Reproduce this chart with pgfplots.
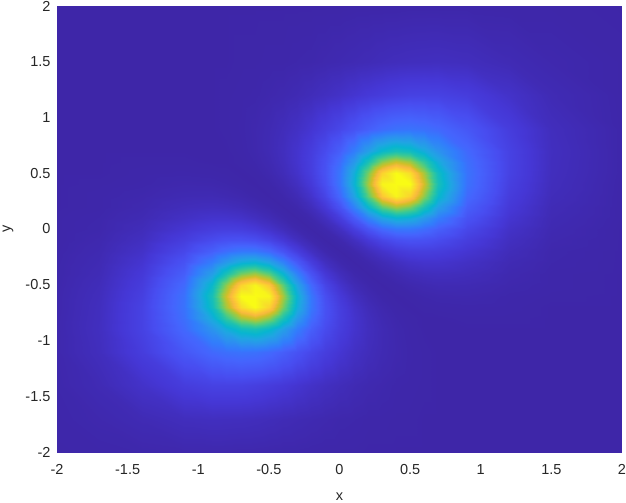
\documentclass[border=0pt]{standalone}
\usepackage{pgfplots}
\pgfplotsset{compat=1.18}
\usepackage{fontspec}
\setmainfont{Liberation Sans}
\definecolor{labelgray}{RGB}{38,38,38}
\pgfplotsset{colormap={parula}{
rgb(0pt)=(0.2422,0.1504,0.6603)
rgb(4pt)=(0.2706,0.2147,0.8364)
rgb(8pt)=(0.2813,0.3006,0.9414)
rgb(12pt)=(0.2699,0.3892,0.9906)
rgb(16pt)=(0.1963,0.4847,0.9892)
rgb(20pt)=(0.1687,0.5703,0.9359)
rgb(24pt)=(0.1248,0.6459,0.8883)
rgb(28pt)=(0.0297,0.7082,0.8163)
rgb(32pt)=(0.0964,0.7500,0.7120)
rgb(36pt)=(0.2161,0.7843,0.5923)
rgb(40pt)=(0.3909,0.8029,0.4354)
rgb(44pt)=(0.6174,0.7876,0.2612)
rgb(48pt)=(0.8203,0.7498,0.1535)
rgb(52pt)=(0.9728,0.7298,0.2394)
rgb(56pt)=(0.9892,0.8136,0.1885)
rgb(60pt)=(0.9597,0.9135,0.1423)
rgb(63pt)=(0.9769,0.9839,0.0805)
}}
\pgfplotstableread{
x y z
-2 -2 0.001
-1.7 -2 0.002
-1.4 -2 0.004
-1.1 -2 0.006
-0.9 -2 0.006
-0.8 -2 0.006
-0.7 -2 0.005
-0.6 -2 0.005
-0.5 -2 0.004
-0.4 -2 0.003
-0.3 -2 0.003
-0.2 -2 0.002
-0.1 -2 0.001
0 -2 0.001
0.1 -2 0.001
0.2 -2 0
0.3 -2 0
0.4 -2 0
0.5 -2 0
0.6 -2 0
0.7 -2 0
0.9 -2 0
1.2 -2 0
1.5 -2 0
2 -2 0

-2 -1.7 0.002
-1.7 -1.7 0.007
-1.4 -1.7 0.015
-1.1 -1.7 0.025
-0.9 -1.7 0.028
-0.8 -1.7 0.027
-0.7 -1.7 0.026
-0.6 -1.7 0.024
-0.5 -1.7 0.021
-0.4 -1.7 0.017
-0.3 -1.7 0.014
-0.2 -1.7 0.011
-0.1 -1.7 0.008
0 -1.7 0.005
0.1 -1.7 0.004
0.2 -1.7 0.002
0.3 -1.7 0.002
0.4 -1.7 0.001
0.5 -1.7 0.001
0.6 -1.7 0
0.7 -1.7 0
0.9 -1.7 0
1.2 -1.7 0
1.5 -1.7 0
2 -1.7 0

-2 -1.4 0.004
-1.7 -1.4 0.015
-1.4 -1.4 0.040
-1.1 -1.4 0.070
-0.9 -1.4 0.083
-0.8 -1.4 0.084
-0.7 -1.4 0.083
-0.6 -1.4 0.077
-0.5 -1.4 0.069
-0.4 -1.4 0.060
-0.3 -1.4 0.049
-0.2 -1.4 0.038
-0.1 -1.4 0.029
0 -1.4 0.021
0.1 -1.4 0.014
0.2 -1.4 0.009
0.3 -1.4 0.006
0.4 -1.4 0.003
0.5 -1.4 0.002
0.6 -1.4 0.001
0.7 -1.4 0
0.9 -1.4 0
1.2 -1.4 0
1.5 -1.4 0
2 -1.4 0

-2 -1.1 0.006
-1.7 -1.1 0.025
-1.4 -1.1 0.070
-1.1 -1.1 0.136
-0.9 -1.1 0.177
-0.8 -1.1 0.192
-0.7 -1.1 0.200
-0.6 -1.1 0.196
-0.5 -1.1 0.179
-0.4 -1.1 0.153
-0.3 -1.1 0.124
-0.2 -1.1 0.096
-0.1 -1.1 0.072
0 -1.1 0.051
0.1 -1.1 0.034
0.2 -1.1 0.022
0.3 -1.1 0.013
0.4 -1.1 0.007
0.5 -1.1 0.003
0.6 -1.1 0.001
0.7 -1.1 0
0.9 -1.1 0
1.2 -1.1 0
1.5 -1.1 0
2 -1.1 0

-2 -0.9 0.006
-1.7 -0.9 0.028
-1.4 -0.9 0.083
-1.1 -0.9 0.177
-0.9 -0.9 0.282
-0.8 -0.9 0.356
-0.7 -0.9 0.421
-0.6 -0.9 0.441
-0.5 -0.9 0.399
-0.4 -0.9 0.314
-0.3 -0.9 0.224
-0.2 -0.9 0.154
-0.1 -0.9 0.105
0 -0.9 0.070
0.1 -0.9 0.045
0.2 -0.9 0.026
0.3 -0.9 0.014
0.4 -0.9 0.006
0.5 -0.9 0.002
0.6 -0.9 0
0.7 -0.9 0
0.9 -0.9 0
1.2 -0.9 0
1.5 -0.9 0
2 -0.9 0

-2 -0.8 0.006
-1.7 -0.8 0.027
-1.4 -0.8 0.084
-1.1 -0.8 0.192
-0.9 -0.8 0.356
-0.8 -0.8 0.490
-0.7 -0.8 0.616
-0.6 -0.8 0.663
-0.5 -0.8 0.594
-0.4 -0.8 0.448
-0.3 -0.8 0.297
-0.2 -0.8 0.187
-0.1 -0.8 0.118
0 -0.8 0.074
0.1 -0.8 0.045
0.2 -0.8 0.024
0.3 -0.8 0.011
0.4 -0.8 0.004
0.5 -0.8 0.001
0.6 -0.8 0
0.7 -0.8 0
0.9 -0.8 0.001
1.2 -0.8 0.001
1.5 -0.8 0
2 -0.8 0

-2 -0.7 0.005
-1.7 -0.7 0.026
-1.4 -0.7 0.083
-1.1 -0.7 0.200
-0.9 -0.7 0.421
-0.8 -0.7 0.616
-0.7 -0.7 0.804
-0.6 -0.7 0.878
-0.5 -0.7 0.782
-0.4 -0.7 0.573
-0.3 -0.7 0.361
-0.2 -0.7 0.210
-0.1 -0.7 0.122
0 -0.7 0.072
0.1 -0.7 0.040
0.2 -0.7 0.019
0.3 -0.7 0.007
0.4 -0.7 0.001
0.5 -0.7 0
0.6 -0.7 0.001
0.7 -0.7 0.002
0.9 -0.7 0.003
1.2 -0.7 0.002
1.5 -0.7 0
2 -0.7 0

-2 -0.6 0.005
-1.7 -0.6 0.024
-1.4 -0.6 0.077
-1.1 -0.6 0.196
-0.9 -0.6 0.441
-0.8 -0.6 0.663
-0.7 -0.6 0.878
-0.6 -0.6 0.962
-0.5 -0.6 0.854
-0.4 -0.6 0.618
-0.3 -0.6 0.378
-0.2 -0.6 0.209
-0.1 -0.6 0.113
0 -0.6 0.061
0.1 -0.6 0.029
0.2 -0.6 0.011
0.3 -0.6 0.002
0.4 -0.6 0
0.5 -0.6 0.001
0.6 -0.6 0.004
0.7 -0.6 0.006
0.9 -0.6 0.007
1.2 -0.6 0.003
1.5 -0.6 0.001
2 -0.6 0

-2 -0.5 0.004
-1.7 -0.5 0.021
-1.4 -0.5 0.069
-1.1 -0.5 0.179
-0.9 -0.5 0.399
-0.8 -0.5 0.594
-0.7 -0.5 0.782
-0.6 -0.5 0.854
-0.5 -0.5 0.756
-0.4 -0.5 0.544
-0.3 -0.5 0.329
-0.2 -0.5 0.177
-0.1 -0.5 0.090
0 -0.5 0.043
0.1 -0.5 0.016
0.2 -0.5 0.004
0.3 -0.5 0
0.4 -0.5 0.002
0.5 -0.5 0.007
0.6 -0.5 0.011
0.7 -0.5 0.014
0.9 -0.5 0.013
1.2 -0.5 0.006
1.5 -0.5 0.002
2 -0.5 0

-2 -0.4 0.003
-1.7 -0.4 0.017
-1.4 -0.4 0.060
-1.1 -0.4 0.153
-0.9 -0.4 0.314
-0.8 -0.4 0.448
-0.7 -0.4 0.573
-0.6 -0.4 0.618
-0.5 -0.4 0.544
-0.4 -0.4 0.392
-0.3 -0.4 0.236
-0.2 -0.4 0.124
-0.1 -0.4 0.058
0 -0.4 0.023
0.1 -0.4 0.005
0.2 -0.4 0
0.3 -0.4 0.004
0.4 -0.4 0.011
0.5 -0.4 0.019
0.6 -0.4 0.024
0.7 -0.4 0.026
0.9 -0.4 0.022
1.2 -0.4 0.009
1.5 -0.4 0.002
2 -0.4 0

-2 -0.3 0.003
-1.7 -0.3 0.014
-1.4 -0.3 0.049
-1.1 -0.3 0.124
-0.9 -0.3 0.224
-0.8 -0.3 0.297
-0.7 -0.3 0.361
-0.6 -0.3 0.378
-0.5 -0.3 0.329
-0.4 -0.3 0.236
-0.3 -0.3 0.141
-0.2 -0.3 0.071
-0.1 -0.3 0.028
0 -0.3 0.006
0.1 -0.3 0
0.2 -0.3 0.005
0.3 -0.3 0.017
0.4 -0.3 0.029
0.5 -0.3 0.040
0.6 -0.3 0.045
0.7 -0.3 0.045
0.9 -0.3 0.034
1.2 -0.3 0.014
1.5 -0.3 0.004
2 -0.3 0

-2 -0.2 0.002
-1.7 -0.2 0.011
-1.4 -0.2 0.038
-1.1 -0.2 0.096
-0.9 -0.2 0.154
-0.8 -0.2 0.187
-0.7 -0.2 0.210
-0.6 -0.2 0.209
-0.5 -0.2 0.177
-0.4 -0.2 0.124
-0.3 -0.2 0.071
-0.2 -0.2 0.031
-0.1 -0.2 0.007
0 -0.2 0
0.1 -0.2 0.006
0.2 -0.2 0.023
0.3 -0.2 0.043
0.4 -0.2 0.061
0.5 -0.2 0.072
0.6 -0.2 0.074
0.7 -0.2 0.070
0.9 -0.2 0.051
1.2 -0.2 0.021
1.5 -0.2 0.005
2 -0.2 0

-2 -0.1 0.001
-1.7 -0.1 0.008
-1.4 -0.1 0.029
-1.1 -0.1 0.072
-0.9 -0.1 0.105
-0.8 -0.1 0.118
-0.7 -0.1 0.122
-0.6 -0.1 0.113
-0.5 -0.1 0.090
-0.4 -0.1 0.058
-0.3 -0.1 0.028
-0.2 -0.1 0.007
-0.1 -0.1 0
0 -0.1 0.007
0.1 -0.1 0.028
0.2 -0.1 0.058
0.3 -0.1 0.090
0.4 -0.1 0.113
0.5 -0.1 0.122
0.6 -0.1 0.118
0.7 -0.1 0.105
0.9 -0.1 0.072
1.2 -0.1 0.029
1.5 -0.1 0.008
2 -0.1 0

-2 0 0.001
-1.7 0 0.005
-1.4 0 0.021
-1.1 0 0.051
-0.9 0 0.070
-0.8 0 0.074
-0.7 0 0.072
-0.6 0 0.061
-0.5 0 0.043
-0.4 0 0.023
-0.3 0 0.006
-0.2 0 0
-0.1 0 0.007
0 0 0.031
0.1 0 0.071
0.2 0 0.124
0.3 0 0.177
0.4 0 0.209
0.5 0 0.210
0.6 0 0.187
0.7 0 0.154
0.9 0 0.096
1.2 0 0.038
1.5 0 0.011
2 0 0

-2 0.1 0.001
-1.7 0.1 0.004
-1.4 0.1 0.014
-1.1 0.1 0.034
-0.9 0.1 0.045
-0.8 0.1 0.045
-0.7 0.1 0.040
-0.6 0.1 0.029
-0.5 0.1 0.017
-0.4 0.1 0.005
-0.3 0.1 0
-0.2 0.1 0.006
-0.1 0.1 0.028
0 0.1 0.071
0.1 0.1 0.141
0.2 0.1 0.236
0.3 0.1 0.329
0.4 0.1 0.378
0.5 0.1 0.361
0.6 0.1 0.297
0.7 0.1 0.224
0.9 0.1 0.124
1.2 0.1 0.049
1.5 0.1 0.014
2 0.1 0.001

-2 0.2 0
-1.7 0.2 0.002
-1.4 0.2 0.009
-1.1 0.2 0.022
-0.9 0.2 0.026
-0.8 0.2 0.024
-0.7 0.2 0.019
-0.6 0.2 0.011
-0.5 0.2 0.004
-0.4 0.2 0
-0.3 0.2 0.005
-0.2 0.2 0.023
-0.1 0.2 0.058
0 0.2 0.124
0.1 0.2 0.236
0.2 0.2 0.392
0.3 0.2 0.544
0.4 0.2 0.618
0.5 0.2 0.573
0.6 0.2 0.448
0.7 0.2 0.314
0.9 0.2 0.153
1.2 0.2 0.060
1.5 0.2 0.017
2 0.2 0.001

-2 0.3 0
-1.7 0.3 0.002
-1.4 0.3 0.006
-1.1 0.3 0.013
-0.9 0.3 0.014
-0.8 0.3 0.011
-0.7 0.3 0.007
-0.6 0.3 0.002
-0.5 0.3 0
-0.4 0.3 0.004
-0.3 0.3 0.016
-0.2 0.3 0.043
-0.1 0.3 0.090
0 0.3 0.177
0.1 0.3 0.329
0.2 0.3 0.544
0.3 0.3 0.756
0.4 0.3 0.854
0.5 0.3 0.782
0.6 0.3 0.594
0.7 0.3 0.399
0.9 0.3 0.179
1.2 0.3 0.069
1.5 0.3 0.021
2 0.3 0.001

-2 0.4 0
-1.7 0.4 0.001
-1.4 0.4 0.003
-1.1 0.4 0.007
-0.9 0.4 0.006
-0.8 0.4 0.004
-0.7 0.4 0.001
-0.6 0.4 0
-0.5 0.4 0.002
-0.4 0.4 0.011
-0.3 0.4 0.029
-0.2 0.4 0.061
-0.1 0.4 0.113
0 0.4 0.209
0.1 0.4 0.378
0.2 0.4 0.618
0.3 0.4 0.854
0.4 0.4 0.962
0.5 0.4 0.878
0.6 0.4 0.663
0.7 0.4 0.441
0.9 0.4 0.196
1.2 0.4 0.077
1.5 0.4 0.024
2 0.4 0.001

-2 0.5 0
-1.7 0.5 0
-1.4 0.5 0.002
-1.1 0.5 0.003
-0.9 0.5 0.002
-0.8 0.5 0.001
-0.7 0.5 0
-0.6 0.5 0.001
-0.5 0.5 0.007
-0.4 0.5 0.019
-0.3 0.5 0.040
-0.2 0.5 0.072
-0.1 0.5 0.122
0 0.5 0.210
0.1 0.5 0.361
0.2 0.5 0.573
0.3 0.5 0.782
0.4 0.5 0.878
0.5 0.5 0.804
0.6 0.5 0.616
0.7 0.5 0.421
0.9 0.5 0.200
1.2 0.5 0.083
1.5 0.5 0.026
2 0.5 0.002

-2 0.6 0
-1.7 0.6 0
-1.4 0.6 0.001
-1.1 0.6 0.001
-0.9 0.6 0
-0.8 0.6 0
-0.7 0.6 0.001
-0.6 0.6 0.004
-0.5 0.6 0.011
-0.4 0.6 0.024
-0.3 0.6 0.045
-0.2 0.6 0.074
-0.1 0.6 0.118
0 0.6 0.187
0.1 0.6 0.297
0.2 0.6 0.448
0.3 0.6 0.594
0.4 0.6 0.663
0.5 0.6 0.616
0.6 0.6 0.490
0.7 0.6 0.356
0.9 0.6 0.192
1.2 0.6 0.084
1.5 0.6 0.027
2 0.6 0.002

-2 0.7 0
-1.7 0.7 0
-1.4 0.7 0
-1.1 0.7 0
-0.9 0.7 0
-0.8 0.7 0
-0.7 0.7 0.002
-0.6 0.7 0.006
-0.5 0.7 0.014
-0.4 0.7 0.026
-0.3 0.7 0.045
-0.2 0.7 0.070
-0.1 0.7 0.105
0 0.7 0.154
0.1 0.7 0.224
0.2 0.7 0.314
0.3 0.7 0.399
0.4 0.7 0.441
0.5 0.7 0.421
0.6 0.7 0.356
0.7 0.7 0.282
0.9 0.7 0.177
1.2 0.7 0.083
1.5 0.7 0.028
2 0.7 0.002

-2 0.9 0
-1.7 0.9 0
-1.4 0.9 0
-1.1 0.9 0
-0.9 0.9 0
-0.8 0.9 0.001
-0.7 0.9 0.003
-0.6 0.9 0.007
-0.5 0.9 0.013
-0.4 0.9 0.022
-0.3 0.9 0.034
-0.2 0.9 0.051
-0.1 0.9 0.072
0 0.9 0.096
0.1 0.9 0.124
0.2 0.9 0.153
0.3 0.9 0.179
0.4 0.9 0.196
0.5 0.9 0.200
0.6 0.9 0.192
0.7 0.9 0.177
0.9 0.9 0.136
1.2 0.9 0.070
1.5 0.9 0.025
2 0.9 0.002

-2 1.2 0
-1.7 1.2 0
-1.4 1.2 0
-1.1 1.2 0
-0.9 1.2 0
-0.8 1.2 0.001
-0.7 1.2 0.002
-0.6 1.2 0.003
-0.5 1.2 0.006
-0.4 1.2 0.009
-0.3 1.2 0.014
-0.2 1.2 0.021
-0.1 1.2 0.029
0 1.2 0.038
0.1 1.2 0.049
0.2 1.2 0.060
0.3 1.2 0.069
0.4 1.2 0.077
0.5 1.2 0.083
0.6 1.2 0.084
0.7 1.2 0.083
0.9 1.2 0.070
1.2 1.2 0.040
1.5 1.2 0.015
2 1.2 0.001

-2 1.5 0
-1.7 1.5 0
-1.4 1.5 0
-1.1 1.5 0
-0.9 1.5 0
-0.8 1.5 0
-0.7 1.5 0.001
-0.6 1.5 0.001
-0.5 1.5 0.002
-0.4 1.5 0.002
-0.3 1.5 0.004
-0.2 1.5 0.005
-0.1 1.5 0.008
0 1.5 0.011
0.1 1.5 0.014
0.2 1.5 0.017
0.3 1.5 0.021
0.4 1.5 0.024
0.5 1.5 0.026
0.6 1.5 0.027
0.7 1.5 0.028
0.9 1.5 0.025
1.2 1.5 0.015
1.5 1.5 0.007
2 1.5 0.001

-2 2 0
-1.7 2 0
-1.4 2 0
-1.1 2 0
-0.9 2 0
-0.8 2 0
-0.7 2 0
-0.6 2 0
-0.5 2 0
-0.4 2 0
-0.3 2 0
-0.2 2 0
-0.1 2 0
0 2 0
0.1 2 0.001
0.2 2 0.001
0.3 2 0.001
0.4 2 0.001
0.5 2 0.002
0.6 2 0.002
0.7 2 0.002
0.9 2 0.002
1.2 2 0.001
1.5 2 0.001
2 2 0
}\fieldtable
\begin{document}
\begin{tikzpicture}
\begin{axis}[
  scale only axis, width=565bp, height=446bp,
  view={0}{90},
  xmin=-2, xmax=2, ymin=-2, ymax=2,
  xtick={-2,-1.5,-1,-0.5,0,0.5,1,1.5,2},
  ytick={-2,-1.5,-1,-0.5,0,0.5,1,1.5,2},
  axis line style={draw=none},
  major tick style={draw=none},
  minor tick num=0,
  /pgf/number format/assume math mode=true,
  tick label style={font=\fontsize{14.5bp}{17bp}\selectfont, text=labelgray},
  xticklabel shift=9bp,
  yticklabel shift=3bp,
  label style={font=\fontsize{14.5bp}{17bp}\selectfont, text=labelgray},
  xlabel={x}, ylabel={y},
  xlabel style={at={([yshift=-45bp]axis description cs:0.5,0)}, anchor=center},
  ylabel style={at={([xshift=-49bp]axis description cs:0,0.5)}, anchor=center},
  colormap name=parula,
  point meta min=0, point meta max=0.87,
]
\addplot3[surf, shader=interp] table[x=x, y=y, z=z] {\fieldtable};
\end{axis}
\pgfresetboundingbox
\useasboundingbox (-57bp,-51bp) rectangle (569bp,452bp);
\end{tikzpicture}
\end{document}
